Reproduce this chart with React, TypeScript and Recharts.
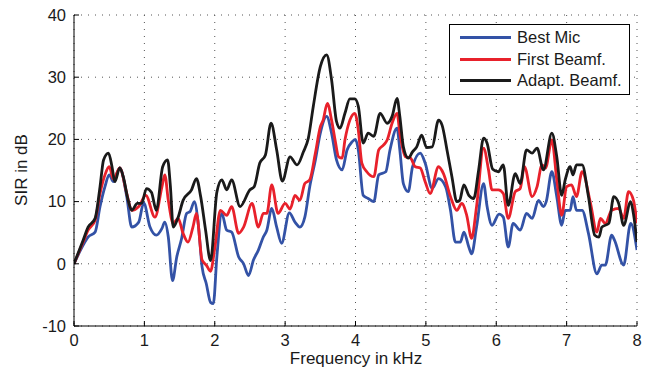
import { LineChart, Line, XAxis, YAxis, CartesianGrid, Legend } from 'recharts'

const FONT = '"Liberation Sans", Arial, Helvetica, sans-serif'

// frequency ticks (kHz) and SIR ticks (dB)
const freqTicks = [0, 1, 2, 3, 4, 5, 6, 7, 8]
const sirTicks = [-10, 0, 10, 20, 30, 40]

// Best Mic
const bestMicFreq = [0, 0.13, 0.2, 0.3, 0.37, 0.44, 0.5, 0.56, 0.65, 0.75, 0.82, 0.92, 0.99, 1.08, 1.17, 1.25, 1.29, 1.34, 1.4, 1.46, 1.53, 1.6, 1.65, 1.71, 1.77, 1.82, 1.88, 1.94, 1.98, 2.03, 2.1, 2.17, 2.24, 2.34, 2.41, 2.48, 2.55, 2.62, 2.69, 2.74, 2.81, 2.88, 2.95, 3.06, 3.14, 3.21, 3.28, 3.35, 3.43, 3.5, 3.59, 3.66, 3.73, 3.81, 3.88, 3.95, 4.0, 4.04, 4.11, 4.18, 4.26, 4.33, 4.43, 4.49, 4.59, 4.63, 4.68, 4.75, 4.81, 4.92, 4.99, 5.09, 5.18, 5.28, 5.35, 5.42, 5.49, 5.54, 5.61, 5.65, 5.72, 5.82, 5.87, 5.94, 6.04, 6.1, 6.17, 6.24, 6.34, 6.43, 6.51, 6.6, 6.67, 6.71, 6.79, 6.86, 6.93, 6.98, 7.05, 7.09, 7.14, 7.22, 7.31, 7.43, 7.5, 7.55, 7.64, 7.68, 7.81, 7.91, 8.0]
const bestMicSir = [0, 3, 4.3, 5.1, 9.2, 12.4, 14.3, 13.2, 15.4, 10.8, 5.9, 6.7, 9.8, 5.9, 4.6, 5.7, 6.7, 4.3, -2.7, 1.1, 4.1, 8.1, 8.4, 10, 5.9, -0.5, -3.2, -6.2, -6.4, 1.1, 8.1, 5.4, 5.1, 1.1, 0, -1.9, 0.6, 2.2, 4.3, 5.4, 8.9, 5.9, 3.3, 8.2, 6.7, 5.9, 7.5, 12.4, 16.7, 21, 23.7, 21, 16.7, 15.1, 18.3, 19.6, 20, 18.3, 11, 10.5, 10, 14.3, 14.8, 18.3, 21.8, 18.3, 12.9, 11.6, 15.6, 17.8, 16.2, 12.1, 13.7, 12.4, 8.6, 3.5, 3.5, 5.1, 2.7, 1.6, 5.9, 12.9, 9.2, 6.2, 8, 7.5, 2.7, 6.5, 5.4, 8.1, 7.3, 10.2, 9.2, 10, 14.8, 10.8, 6.2, 8.6, 8.6, 10.8, 8.6, 8.6, 4.9, -1.6, -0.2, -0.2, 4.6, 3.8, -0.2, 6.5, 2.2]

// First Beamf.
const firstBeamfFreq = [0, 0.13, 0.2, 0.3, 0.37, 0.44, 0.5, 0.56, 0.65, 0.75, 0.82, 0.92, 1.02, 1.15, 1.25, 1.29, 1.34, 1.41, 1.48, 1.55, 1.62, 1.69, 1.74, 1.82, 1.88, 1.94, 2.0, 2.08, 2.17, 2.24, 2.34, 2.41, 2.53, 2.62, 2.69, 2.74, 2.81, 2.9, 3.0, 3.07, 3.14, 3.21, 3.28, 3.35, 3.43, 3.5, 3.54, 3.6, 3.66, 3.71, 3.76, 3.81, 3.85, 3.92, 3.99, 4.04, 4.09, 4.16, 4.26, 4.33, 4.4, 4.45, 4.52, 4.59, 4.63, 4.71, 4.78, 4.85, 4.92, 4.99, 5.06, 5.18, 5.25, 5.35, 5.44, 5.51, 5.58, 5.65, 5.72, 5.82, 5.89, 5.94, 6.03, 6.1, 6.17, 6.27, 6.34, 6.4, 6.51, 6.58, 6.65, 6.7, 6.79, 6.86, 6.93, 7.0, 7.07, 7.14, 7.22, 7.34, 7.43, 7.48, 7.55, 7.64, 7.74, 7.81, 7.88, 7.95, 8.0]
const firstBeamfSir = [0, 3.5, 5.4, 7, 11.3, 14.3, 15.6, 13.6, 15.4, 11.3, 8.6, 9.2, 11, 7.5, 12.4, 14.3, 10.2, 6.5, 7.3, 4.9, 3.5, 5.9, 8.1, 0.6, -0.2, -1.2, 2.5, 8.6, 7.8, 9.2, 4.9, 5.9, 9.7, 5.9, 8.1, 8.1, 12.7, 8.1, 9.7, 8.8, 11, 10.2, 12.9, 13.5, 17.8, 22, 23.1, 25.8, 23.1, 19.9, 17.2, 17, 19.9, 23.1, 24.2, 21.5, 16.2, 14.8, 14, 18.3, 19.1, 19.9, 22.6, 24.2, 21, 17.2, 17, 15.6, 15.4, 13.2, 11.3, 15.6, 14.5, 10.8, 8.6, 9.7, 7.8, 4.1, 9.2, 18.6, 15.1, 11.9, 11.9, 11.3, 7.3, 11.6, 12.1, 15.6, 10.8, 12.4, 15.9, 15.4, 19.9, 13.5, 7.8, 12.4, 12.7, 10.8, 14.8, 9.7, 5.1, 7.3, 6.5, 8.6, 8.9, 7.3, 11.6, 10.2, 6.5]

// Adapt. Beamf.
const adaptBeamfFreq = [0, 0.13, 0.2, 0.3, 0.37, 0.42, 0.49, 0.54, 0.58, 0.65, 0.7, 0.77, 0.82, 0.9, 0.96, 1.03, 1.1, 1.17, 1.26, 1.33, 1.37, 1.41, 1.48, 1.55, 1.67, 1.74, 1.8, 1.87, 1.94, 2.03, 2.1, 2.17, 2.24, 2.36, 2.5, 2.56, 2.64, 2.72, 2.8, 2.88, 2.96, 3.07, 3.17, 3.26, 3.33, 3.4, 3.5, 3.59, 3.66, 3.73, 3.78, 3.85, 3.92, 3.99, 4.04, 4.11, 4.18, 4.26, 4.35, 4.45, 4.52, 4.59, 4.63, 4.68, 4.75, 4.81, 4.87, 4.94, 5.01, 5.09, 5.18, 5.23, 5.3, 5.37, 5.44, 5.48, 5.54, 5.61, 5.68, 5.75, 5.82, 5.87, 5.95, 6.03, 6.1, 6.17, 6.27, 6.34, 6.43, 6.51, 6.58, 6.67, 6.79, 6.86, 6.93, 6.98, 7.05, 7.09, 7.14, 7.22, 7.31, 7.4, 7.46, 7.5, 7.6, 7.67, 7.74, 7.81, 7.91, 7.95, 8.0]
const adaptBeamfSir = [0, 3.8, 5.9, 7.3, 12.4, 16.7, 17.8, 15.6, 13.2, 15.4, 14, 10.2, 8.6, 9.7, 9.7, 12.1, 11.5, 8.6, 15.6, 16.7, 12.4, 5.9, 7.5, 10.2, 11.9, 13.7, 10.8, 5.4, 0.5, 11.5, 13.5, 11.9, 13.5, 9.2, 11.9, 12.4, 16.2, 17.5, 22.6, 18.3, 13.3, 17.2, 15.9, 18, 20.2, 25.3, 31.7, 33.6, 29.6, 22.9, 21.8, 24.2, 26.5, 26.5, 25.3, 19.4, 21, 20.5, 24.2, 22.6, 23.7, 26.6, 23.7, 18.8, 17, 18, 18.8, 20.7, 18.7, 18.8, 23.1, 22.3, 18.3, 14, 10, 10.2, 12.7, 11, 10.5, 15.1, 20.2, 19.4, 15.2, 14.8, 15.9, 9.4, 14.5, 12.9, 18.3, 17.8, 18.6, 15.1, 21, 17.2, 11, 13.5, 15.6, 14.3, 15.9, 15.9, 10.8, 4.6, 4.3, 5.9, 6.5, 10.8, 9.7, 6.2, 10, 8, 3.5]

const toPoints = (freq: number[], sir: number[]) => freq.map((f, i) => ({ f, v: sir[i] }))

const series = [
  { name: 'Best Mic', color: '#3352a6', data: toPoints(bestMicFreq, bestMicSir) },
  { name: 'First Beamf.', color: '#e8212b', data: toPoints(firstBeamfFreq, firstBeamfSir) },
  { name: 'Adapt. Beamf.', color: '#1a1a1a', data: toPoints(adaptBeamfFreq, adaptBeamfSir) },
]

function LegendBox() {
  return (
    <div
      style={{
        border: '1px solid #000',
        background: '#fff',
        padding: '2px 0 2px 10px',
        fontFamily: FONT,
        fontSize: 16.5,
        color: '#1a1a1a',
        boxSizing: 'border-box',
        width: 181,
      }}
    >
      {series.map((s) => (
        <div key={s.name} style={{ display: 'flex', alignItems: 'center', height: 21.5 }}>
          <span style={{ display: 'inline-block', width: 51, height: 3, background: s.color, marginRight: 6 }} />
          <span>{s.name}</span>
        </div>
      ))}
    </div>
  )
}

const tickStyle = { fontFamily: FONT, fontSize: 16.5, fill: '#1a1a1a' }

export default function App() {
  return (
    <div style={{ position: 'absolute', left: 0, top: 0, background: '#fff' }}>
      <LineChart width={651} height={371} margin={{ top: 15, right: 14, bottom: 0, left: 0 }}>
        <CartesianGrid stroke="#555" strokeDasharray="1 6" />
        <XAxis
          type="number"
          dataKey="f"
          domain={[0, 8]}
          ticks={freqTicks}
          allowDataOverflow
          height={45}
          stroke="#000"
          tickSize={-5}
          tickMargin={13}
          tick={tickStyle}
          label={{
            content: () => (
              <text x={356} y={364} textAnchor="middle" style={{ fontFamily: FONT, fontSize: 17, fill: '#1a1a1a' }}>
                Frequency in kHz
              </text>
            ),
          }}
        />
        <YAxis
          type="number"
          domain={[-10, 40]}
          ticks={sirTicks}
          allowDataOverflow
          width={74}
          stroke="#000"
          tickSize={-5}
          tickMargin={13}
          tick={tickStyle}
          label={{
            content: () => (
              <text
                x={27}
                y={170}
                transform="rotate(-90 27 170)"
                textAnchor="middle"
                style={{ fontFamily: FONT, fontSize: 17, fill: '#1a1a1a' }}
              >
                SIR in dB
              </text>
            ),
          }}
        />
        <Legend
          layout="vertical"
          align="center"
          verticalAlign="middle"
          content={() => <LegendBox />}
          wrapperStyle={{ top: 24, left: 449, width: 181 }}
        />
        {series.map((s) => (
          <Line
            key={s.name}
            data={s.data}
            dataKey="v"
            name={s.name}
            type="monotone"
            stroke={s.color}
            strokeWidth={2.8}
            strokeLinejoin="round"
            dot={false}
            activeDot={false}
            isAnimationActive={false}
          />
        ))}
      </LineChart>
    </div>
  )
}
